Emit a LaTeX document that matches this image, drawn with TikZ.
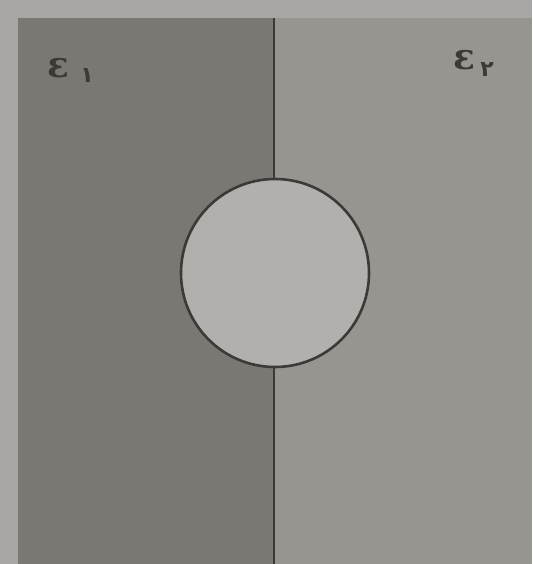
\documentclass[tikz,border=0pt]{standalone}
\usepackage{fontspec}
\newfontfamily\arabicfont[Script=Arabic]{DejaVu Sans}
\newfontfamily\epsfont{DejaVu Serif}
\definecolor{bgc}{HTML}{A9A7A3}
\definecolor{leftc}{HTML}{7B7874}
\definecolor{rightc}{HTML}{989591}
\definecolor{circc}{HTML}{B2B0AC}
\definecolor{inkc}{HTML}{3C3A38}
\tikzset{
  lbl/.style={text=inkc, font=\epsfont\fontsize{36}{36}\selectfont\bfseries, inner sep=0pt},
  sub/.style={text=inkc, font=\arabicfont\fontsize{22}{22}\selectfont\bfseries, inner sep=0pt}
}
\begin{document}
\begin{tikzpicture}[x=1pt,y=-1pt]
\fill[bgc] (0,0) rectangle (532,564);
\useasboundingbox (0,0) rectangle (532,564);
\fill[leftc] (18,18) rectangle (274,564);
\fill[rightc] (274,18) rectangle (532,564);
\coordinate (top) at (274,18);
\coordinate (bot) at (274,564);
\draw[inkc, line width=2.2pt] (top) -- (bot);
\node[circle, draw=inkc, fill=circc, line width=2.6pt, minimum size=188pt, inner sep=0pt] (c) at (275,273) {};
\node[lbl] (e1) at (58,68) {ε};
\node[sub] (s1) at (87,76) {۱};
\node[lbl] (e2) at (464,60) {ε};
\node[sub] (s2) at (487,70) {۲};
\end{tikzpicture}
\end{document}
